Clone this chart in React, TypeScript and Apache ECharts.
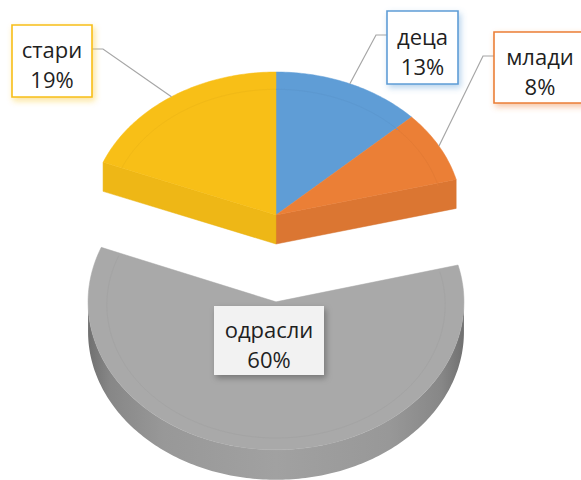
import React, { useEffect, useRef } from 'react';
import * as echarts from 'echarts';

// ---- data ----
const categories = ['деца', 'млади', 'одрасли', 'стари'];
const values = [13, 8, 60, 19];
const colors = ['#5F9DD6', '#EB7F36', '#A9A9A9', '#F8BF17'];
const explodedCategories = ['одрасли'];

// ---- geometry / style ----
const CX = 276;
const CY = 215;
const RX = 186;
const RY = 143;
const DEPTH = 29;
const EXPLODE = 87;
const PERSPECTIVE = 0.0004;
const FONT = '22px "Open Sans", "Noto Sans", sans-serif';

type Box = { left: number; top: number; w: number; h: number; border: boolean; fill: string };
const labelBoxes: Record<string, Box> = {
  'деца': { left: 387, top: 11, w: 71, h: 73, border: true, fill: '#FFFFFF' },
  'млади': { left: 494, top: 32, w: 92, h: 71, border: true, fill: '#FFFFFF' },
  'одрасли': { left: 214, top: 306, w: 110, h: 69, border: false, fill: '#F2F2F2' },
  'стари': { left: 12, top: 25, w: 80, h: 72, border: true, fill: '#FFFFFF' },
};

const total = values.reduce((a, b) => a + b, 0);
const startAngles: number[] = [];
const endAngles: number[] = [];
{
  let acc = 0;
  values.forEach((v) => {
    startAngles.push((acc / total) * Math.PI * 2);
    acc += v;
    endAngles.push((acc / total) * Math.PI * 2);
  });
}
const isExploded = (i: number) => explodedCategories.includes(categories[i]);

function darken(c: string, f: number): string {
  const arr = echarts.color.parse(c) as number[];
  return `rgb(${Math.round(arr[0] * f)},${Math.round(arr[1] * f)},${Math.round(arr[2] * f)})`;
}

function offsetFor(i: number) {
  if (!isExploded(i)) return [0, 0];
  const mid = (startAngles[i] + endAngles[i]) / 2;
  return [0, EXPLODE * -Math.cos(mid)];
}

type Geo = { cx: number; cy: number; rx: number; ry: number };

function pt(a: number, g: Geo, s = 1): number[] {
  return [g.cx + g.rx * s * Math.sin(a), g.cy - g.ry * s * Math.cos(a)];
}

function arcPts(a0: number, a1: number, g: Geo, s = 1): number[][] {
  const n = Math.max(2, Math.ceil(((a1 - a0) * 180) / Math.PI));
  const out: number[][] = [];
  for (let k = 0; k <= n; k++) out.push(pt(a0 + ((a1 - a0) * k) / n, g, s));
  return out;
}

function renderItem(params: any, api: any) {
  const i = params.dataIndex;
  const name = categories[i];
  const color = colors[i];
  const a0 = startAngles[i];
  const a1 = endAngles[i];
  const [dx, dy] = offsetFor(i);
  const persp = 1 + dy * PERSPECTIVE;
  const g: Geo = { cx: CX + dx, cy: CY + dy, rx: RX * (1 + dy * PERSPECTIVE * 0.3), ry: RY * persp };
  const depth = DEPTH * persp;
  const children: any[] = [];
  const n = categories.length;

  // outer side wall (front half only)
  const s0 = Math.max(a0, Math.PI / 2);
  const s1 = Math.min(a1, (Math.PI * 3) / 2);
  if (s1 > s0) {
    const top = arcPts(s0, s1, g);
    const bottom = top.map((p) => [p[0], p[1] + depth]).reverse();
    children.push({
      type: 'polygon',
      z2: 0,
      shape: { points: top.concat(bottom) },
      style: {
        fill: {
          type: 'linear', x: 0, y: 0, x2: 1, y2: 0,
          colorStops: [
            { offset: 0, color: darken(color, 0.66) },
            { offset: 0.06, color: darken(color, 0.8) },
            { offset: 0.2, color: darken(color, 0.9) },
            { offset: 0.5, color: darken(color, 0.95) },
            { offset: 0.8, color: darken(color, 0.9) },
            { offset: 0.94, color: darken(color, 0.8) },
            { offset: 1, color: darken(color, 0.66) },
          ],
        },
      },
    });
  }

  // radial faces facing the viewer where neighbour is separated
  const prev = (i - 1 + n) % n;
  const next = (i + 1) % n;
  const radial = (a: number, f: number) => {
    const p = pt(a, g);
    children.push({
      type: 'polygon',
      z2: 0,
      shape: { points: [[g.cx, g.cy], p, [p[0], p[1] + depth], [g.cx, g.cy + depth]] },
      style: { fill: darken(color, f), stroke: darken(color, f - 0.03), lineWidth: 0.5 },
    });
  };
  if (isExploded(prev) !== isExploded(i) && Math.sin(a0) < -1e-6) radial(a0, 0.96);
  if (isExploded(next) !== isExploded(i) && Math.sin(a1) > 1e-6) radial(a1, 0.93);

  // top face
  children.push({
    type: 'polygon',
    z2: 1,
    shape: { points: [[g.cx, g.cy]].concat(arcPts(a0, a1, g)) },
    style: { fill: color, stroke: color, lineWidth: 0.5 },
  });
  // subtle bevel line
  children.push({
    type: 'polyline',
    z2: 2,
    shape: { points: arcPts(a0, a1, { ...g, cy: g.cy + 3 }, 0.9) },
    style: { stroke: darken(color, 0.97), lineWidth: 1, fill: null },
  });

  // label
  const box = labelBoxes[name];
  const pct = Math.round((api.value(0) / total) * 100);
  if (box) {
    const mid = (a0 + a1) / 2;
    const anchor = pt(mid, g);
    const boxCx = box.left + box.w / 2;
    const boxCy = box.top + box.h / 2;
    if (box.border) {
      const onRight = anchor[0] > boxCx;
      const sx = onRight ? box.left + box.w : box.left;
      const sy = box.top + 24;
      const ex = onRight ? sx + 11 : sx - 11;
      children.push({
        type: 'polyline',
        z2: 8,
        shape: { points: [[sx, sy], [ex, sy], anchor] },
        style: { stroke: '#A6A6A6', lineWidth: 1.2, fill: null },
      });
    }
    children.push({
      type: 'rect',
      z2: 9,
      shape: { x: box.left, y: box.top, width: box.w, height: box.h },
      style: {
        fill: box.fill,
        stroke: box.border ? color : null,
        lineWidth: box.border ? 1.6 : 0,
        shadowBlur: 6,
        shadowOffsetX: 2,
        shadowOffsetY: 3,
        shadowColor: box.border ? echarts.color.modifyAlpha(color, 0.45) : 'rgba(0,0,0,0.3)',
      },
    });
    children.push({
      type: 'text',
      z2: 10,
      style: {
        text: `${name}\n${pct}%`,
        x: boxCx,
        y: boxCy + 3,
        align: 'center',
        verticalAlign: 'middle',
        font: FONT,
        lineHeight: 30,
        fill: '#1F1F1F',
      },
    });
  }

  return { type: 'group', children };
}

export default function App() {
  const ref = useRef<HTMLDivElement>(null);
  useEffect(() => {
    if (!ref.current) return;
    const chart = echarts.init(ref.current, null, { renderer: 'svg' });
    chart.setOption({
      animation: false,
      backgroundColor: '#FFFFFF',
      series: [
        {
          type: 'custom',
          coordinateSystem: 'none',
          silent: true,
          renderItem,
          data: values.map((v, i) => ({ name: categories[i], value: v })),
        },
      ],
    });
    return () => chart.dispose();
  }, []);
  return (
    <div
      ref={ref}
      style={{ position: 'fixed', left: 0, top: 0, width: 581, height: 480 }}
    />
  );
}
